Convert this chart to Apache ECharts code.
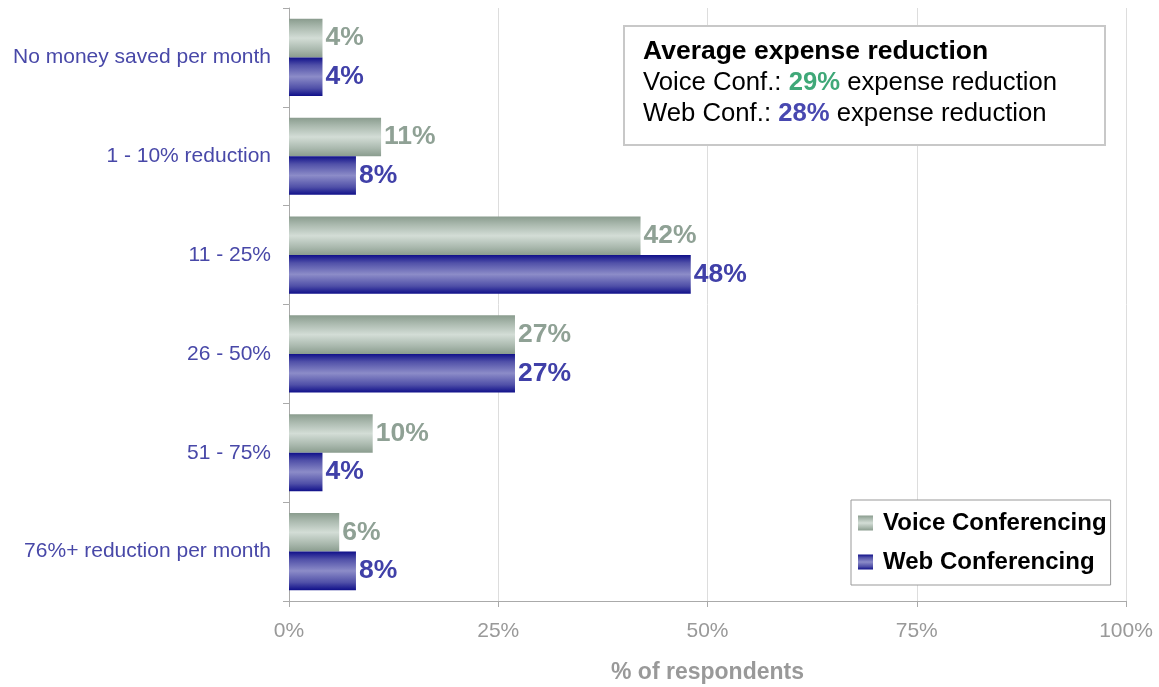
<!DOCTYPE html>
<html><head><meta charset="utf-8">
<script src="https://cdn.jsdelivr.net/npm/echarts@6/dist/echarts.min.js"></script>
<style>html,body{margin:0;padding:0;background:#fff}#c{width:1159px;height:687px}</style>
</head><body><div id="c"></div>
<script>
const categories = ['No money saved per month', '1 - 10% reduction', '11 - 25%', '26 - 50%', '51 - 75%', '76%+ reduction per month'];
const voiceValues = [4, 11, 42, 27, 10, 6];
const webValues = [4, 8, 48, 27, 4, 8];
const tickValues = [0, 25, 50, 75, 100];
const seriesNames = ['Voice Conferencing', 'Web Conferencing'];
const avgVoice = 29, avgWeb = 28;

const SANS = '"Liberation Sans", Arial, sans-serif';

const voiceGrad = new echarts.graphic.LinearGradient(0,0,0,1,[
  {offset:0,color:'#8a9c8e'},{offset:0.2,color:'#a9b8ad'},{offset:0.5,color:'#d3ddd6'},{offset:0.8,color:'#a9b8ad'},{offset:1,color:'#8a9c8e'}]);
const webGrad = new echarts.graphic.LinearGradient(0,0,0,1,[
  {offset:0,color:'#10108a'},{offset:0.2,color:'#5050a8'},{offset:0.5,color:'#8c8cc8'},{offset:0.8,color:'#5050a8'},{offset:1,color:'#10108a'}]);

const chart = echarts.init(document.getElementById('c'), null, {renderer:'canvas'});
chart.setOption({
  animation:false,
  grid:{left:289, right:33, top:8, bottom:86, containLabel:false, outerBoundsMode:'none'},
  xAxis:{type:'value', min:0, max:100, interval:25,
    axisLine:{show:true, lineStyle:{color:'#aaaaaa', width:1}},
    axisTick:{show:true, length:6, lineStyle:{color:'#aaaaaa'}},
    splitLine:{show:true, lineStyle:{color:'#dddddd', width:1}},
    axisLabel:{formatter:v=>v+'%', color:'#999999', fontSize:21, fontFamily:SANS, margin:20},
    name:'% of respondents', nameLocation:'middle', nameGap:60,
    nameTextStyle:{color:'#999999', fontSize:23, fontWeight:'bold', fontFamily:SANS}
  },
  yAxis:{type:'category', data:categories, inverse:true,
    axisLine:{show:true, lineStyle:{color:'#aaaaaa'}},
    axisTick:{show:true, length:6, lineStyle:{color:'#aaaaaa'}},
    axisLabel:{color:'#4848a8', fontSize:21, fontFamily:SANS, margin:18}
  },
  legend:{orient:'vertical', left:851, top:500, data:seriesNames,
    backgroundColor:'#fff', borderColor:'#999', borderWidth:1, padding:[11,4,11,7],
    itemWidth:15, itemHeight:15, itemGap:15, icon:'rect',
    textStyle:{color:'#000', fontSize:24, fontWeight:'bold', fontFamily:SANS, padding:[0,0,0,5]}
  },
  series:[
    {name:seriesNames[0], type:'bar', data:voiceValues, barGap:'0%', barCategoryGap:'22%',
     itemStyle:{color:voiceGrad},
     label:{show:true, position:'right', distance:3, formatter:p=>p.value+'%', color:'#8fa195', fontSize:26.5, fontWeight:'bold', fontFamily:SANS}},
    {name:seriesNames[1], type:'bar', data:webValues,
     itemStyle:{color:webGrad},
     label:{show:true, position:'right', distance:3, formatter:p=>p.value+'%', color:'#4040a8', fontSize:26.5, fontWeight:'bold', fontFamily:SANS}}
  ],
  graphic:[
    {type:'rect', shape:{x:624, y:26, width:481, height:119}, style:{fill:'#fff', stroke:'#c8c8c8', lineWidth:2}, z:10},
    {type:'text', x:643, y:36, z:11, style:{
      text:'{b|Average expense reduction}\n{n|Voice Conf.: }{g|'+avgVoice+'%}{n| expense reduction}\n{n|Web Conf.: }{p|'+avgWeb+'%}{n| expense reduction}',
      rich:{
        b:{fontSize:26.5, fontWeight:'bold', fill:'#000', fontFamily:SANS, lineHeight:31},
        n:{fontSize:25.7, fill:'#000', fontFamily:SANS, lineHeight:31},
        g:{fontSize:25.7, fontWeight:'bold', fill:'#3fa878', fontFamily:SANS, lineHeight:31},
        p:{fontSize:25.7, fontWeight:'bold', fill:'#4848b0', fontFamily:SANS, lineHeight:31}
      }}}
  ]
});
</script></body></html>
